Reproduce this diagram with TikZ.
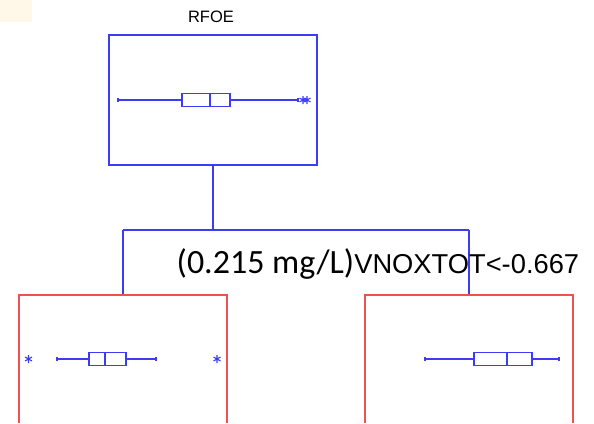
\documentclass[tikz,border=0pt]{standalone}
\usepackage{fontspec}
\newfontfamily\arialf{Liberation Sans}
\newfontfamily\calf{Carlito}
\definecolor{creamcol}{HTML}{FFF8E8}
\definecolor{myblue}{RGB}{60,60,245}
\definecolor{myred}{RGB}{242,80,80}
\tikzset{
  nodebox/.style={color=myblue, draw, line width=1.1pt, minimum width=208pt, minimum height=130pt, inner sep=0pt},
  conn/.style={color=myblue, line width=1.1pt},
  childbox/.style={color=myred, line width=1.2pt},
  bp/.style={color=myblue, line width=1.1pt},
  lbl/.style={inner sep=0pt, anchor=base, text=black},
}
\newcommand{\mystar}[2]{%
  \draw[color=myblue, line width=1.1pt] (#1,#2) ++(0,-4) -- ++(0,8)
    (#1,#2) ++(-3.5,-2) -- ++(7,4)
    (#1,#2) ++(-3.5,2) -- ++(7,-4);}
\newcommand{\myboxplot}[6]{% y, wlo, q1, med, q3, whi
  \draw[bp] (#2,#1) -- (#3,#1) (#5,#1) -- (#6,#1);
  \draw[bp] (#2,#1-2) -- (#2,#1+2) (#6,#1-2) -- (#6,#1+2);
  \draw[bp] (#3,#1-6.5) rectangle (#5,#1+6.5);
  \draw[bp] (#4,#1-6.5) -- (#4,#1+6.5);}
\begin{document}
\begin{tikzpicture}[x=1pt,y=-1pt]
\useasboundingbox (0,0) rectangle (594,423);
\fill[creamcol] (0,0) rectangle (32,22);
% title
\node[lbl, font=\arialf\fontsize{16.5}{20}\selectfont] (title) at (211,23) {RFOE};
% root node
\node[nodebox] (root) at (213,100) {};
\myboxplot{100}{118}{182}{210}{230}{298}
\mystar{303}{100}
\mystar{307}{100}
% split
\coordinate (split) at (213,230);
\coordinate (lsplit) at (123,230);
\coordinate (rsplit) at (469,230);
\coordinate (ltop) at (123,295);
\coordinate (rtop) at (469,295);
\draw[conn] (root.south) -- (split);
\draw[conn] (lsplit) -- (rsplit);
\draw[conn] (lsplit) -- (ltop);
\draw[conn] (rsplit) -- (rtop);
% split label
\node[lbl, anchor=base west] (cond) at (176.5,273)
  {{\calf\fontsize{34}{40}\selectfont (0.215 mg/L)}{\arialf\fontsize{27.3}{33}\selectfont VNOXTOT<-0.667}};
% children
\draw[childbox] (19,423) -- (19,295) -- (227,295) -- (227,423);
\draw[childbox] (365,423) -- (365,295) -- (573,295) -- (573,423);
\myboxplot{359}{57}{89}{105}{126}{156}
\mystar{28.5}{359}
\mystar{217}{359}
\myboxplot{359}{425}{474}{507}{532}{559}
\end{tikzpicture}
\end{document}
